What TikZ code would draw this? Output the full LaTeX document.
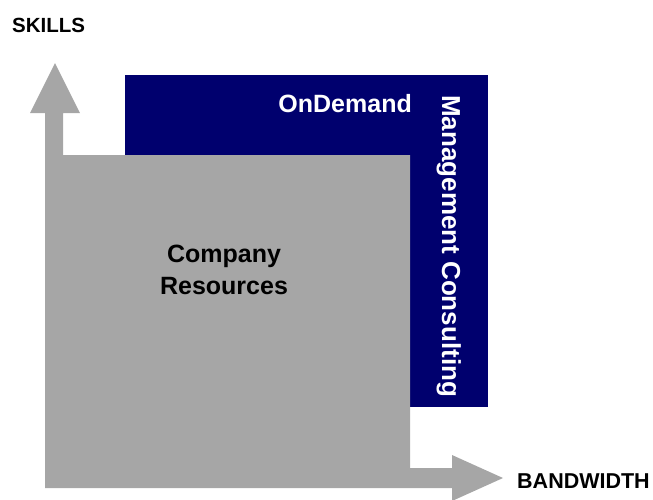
\documentclass[tikz,border=0pt]{standalone}
\usepackage{fontspec}
\setmainfont{Liberation Sans}
\usetikzlibrary{positioning}
\definecolor{navy}{RGB}{0,0,110}
\definecolor{boxgray}{RGB}{166,166,166}

\begin{document}
\begin{tikzpicture}[x = 1pt, y = -1pt,
    axislabel/.style = {font = \fontsize{20.5}{24}\selectfont\bfseries, inner sep = 0},
    boxlabel/.style = {font = \fontsize{25}{32}\selectfont\bfseries, inner sep = 0}]
    \useasboundingbox (0,0) rectangle (653,499);

    % outsourced block behind
    \fill[navy] (125,75) rectangle (488,407);

    % company block with the two axis arrows
    \fill[boxgray] (45,488) -- (45,113) -- (30,113) -- (55,63) -- (80,113)
        -- (63,113) -- (63,155) -- (410,155) -- (410,468) -- (452,468)
        -- (452,455) -- (503,478) -- (452,501) -- (452,488) -- cycle;

    \node[axislabel, anchor = base west] (skills) at (12,32) {SKILLS};
    \node[axislabel, anchor = base west, font = \fontsize{21.5}{24}\selectfont\bfseries] (bandwidth) at (517,488) {BANDWIDTH};

    \node[boxlabel, white, anchor = base east] (ondemand) at (412,112) {OnDemand};
    \node[boxlabel, white, rotate = -90, anchor = base west, font = \fontsize{26}{32}\selectfont\bfseries] (consulting) at (442,95) {Management Consulting};
    \node[boxlabel, align = center, anchor = north] (company) at (224,245) {Company\\Resources};
\end{tikzpicture}
\end{document}
